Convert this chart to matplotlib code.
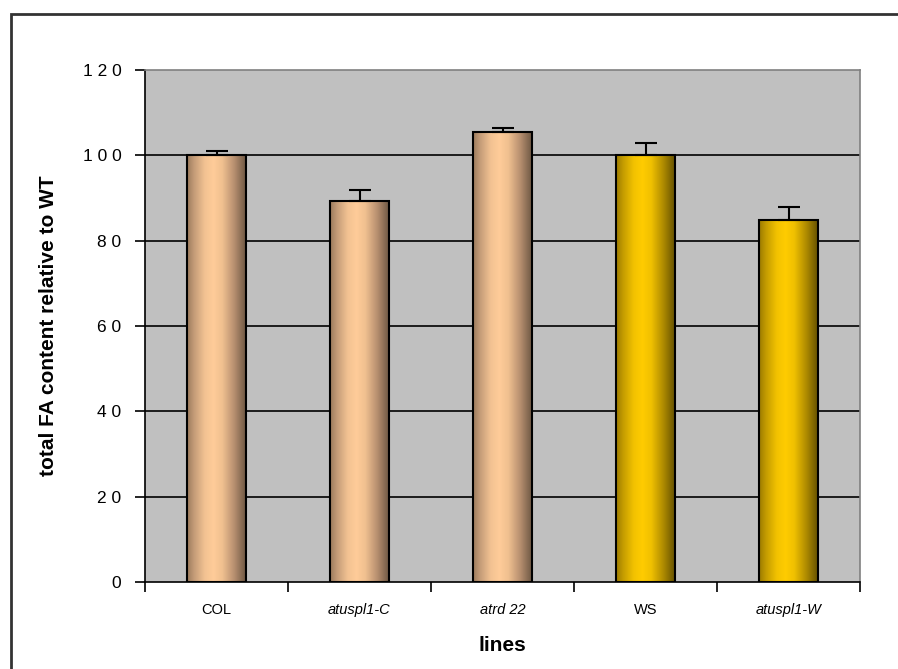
import numpy as np
import matplotlib
matplotlib.use("Agg")
import matplotlib.pyplot as plt
from matplotlib.colors import LinearSegmentedColormap
from matplotlib.patches import Rectangle

categories = ["COL", "atuspl1-C", "atrd 22", "WS", "atuspl1-W"]
italic_labels = [False, True, True, False, True]
values = [100.0, 89.2, 105.4, 100.0, 84.8]
errors = [0.9, 2.7, 0.9, 3.0, 3.1]
bar_groups = ["peach", "peach", "peach", "gold", "gold"]
yticks = [0, 20, 40, 60, 80, 100, 120]

plt.rcParams['font.family'] = ['Liberation Sans', 'DejaVu Sans']

fig = plt.figure(figsize=(8.98, 6.69), dpi=100)
ax = fig.add_axes([145/898, 87/669, 715/898, 512/669])
ax.set_facecolor("#c0c0c0")

cmaps = {
    "peach": LinearSegmentedColormap.from_list("peach", [
        (0.0, "#9a7a5c"), (0.12, "#c49c78"), (0.3, "#f2c292"),
        (0.45, "#ffcc99"), (0.6, "#f0c090"), (0.8, "#b89070"),
        (1.0, "#6e5844")]),
    "gold": LinearSegmentedColormap.from_list("gold", [
        (0.0, "#9a7a00"), (0.12, "#c49c00"), (0.3, "#f2c200"),
        (0.45, "#ffcc00"), (0.6, "#f0c000"), (0.8, "#b08c00"),
        (1.0, "#665200")]),
}

x = np.arange(len(categories))
width = 0.41
for yy in yticks[1:-1]:
    ax.axhline(yy, color="black", lw=1.2, zorder=1)

bars = ax.bar(x, values, width=width, facecolor="none", edgecolor="black",
              linewidth=1.5, zorder=3)
grad = np.linspace(0, 1, 256).reshape(1, -1)
for b, g in zip(bars, bar_groups):
    x0 = b.get_x()
    im = ax.imshow(grad, cmap=cmaps[g], aspect="auto",
                   extent=[x0, x0 + b.get_width(), 0, b.get_height()],
                   zorder=2, interpolation="bilinear")
    im.set_clip_path(b)

ax.errorbar(x, values, yerr=[np.zeros(len(errors)), errors], fmt="none",
            ecolor="black", elinewidth=1.5, capsize=8, capthick=1.5, zorder=4)

ax.set_xlim(-0.5, len(categories) - 0.5)
ax.set_ylim(0, 120)
ax.set_yticks(yticks)
ax.set_yticklabels([" ".join(str(t)) for t in yticks], fontsize=12.5)
ax.tick_params(axis="y", direction="out", length=7, width=1.2, pad=10)

ax.set_xticks(np.arange(-0.5, len(categories), 1.0))
ax.set_xticklabels([])
ax.set_xticks(x, minor=True)
ax.set_xticklabels(categories, minor=True, fontsize=10.5)
for lbl, it in zip(ax.get_xticklabels(minor=True), italic_labels):
    if it:
        lbl.set_style("italic")
ax.tick_params(axis="x", which="major", direction="out", length=7, width=1.2)
ax.tick_params(axis="x", which="minor", length=0, pad=15)

for s in ["top", "right"]:
    ax.spines[s].set_color("#808080")
    ax.spines[s].set_linewidth(1.2)
for s in ["left", "bottom"]:
    ax.spines[s].set_color("black")
    ax.spines[s].set_linewidth(1.2)

ax.set_ylabel("total FA content relative to WT", fontsize=15,
              fontweight="bold", labelpad=18)
ax.yaxis.label.set_stretch("condensed")
ax.set_xlabel("lines", fontsize=15, fontweight="bold", labelpad=14)

border = Rectangle((11/898, -0.1), 1.2, 1 - 14/669 + 0.1,
                   transform=fig.transFigure, fill=False,
                   edgecolor="#333333", linewidth=2, clip_on=False)
fig.patches.append(border)

fig.savefig("out.png", dpi=100)
